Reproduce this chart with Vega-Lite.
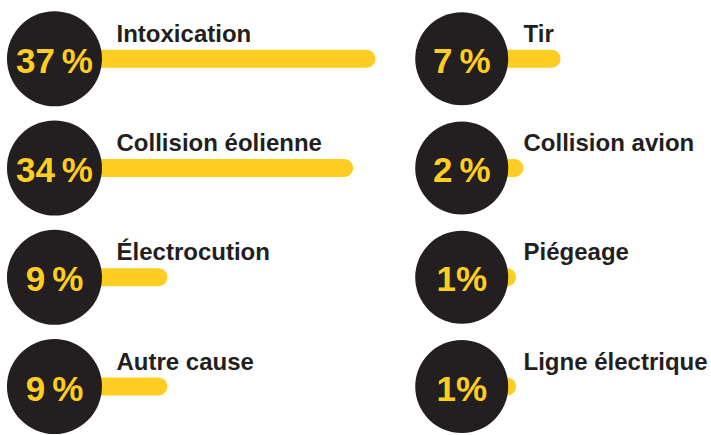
{
  "$schema": "https://vega.github.io/schema/vega-lite/v6.json",
  "padding": 0,
  "background": "white",
  "config": {"view": {"stroke": null}, "concat": {"spacing": 0}},
  "datasets": {
    "causes": [
      {"col": 1, "row": 0, "cause": "Intoxication", "pct": 37, "label": "37\u2009%"},
      {"col": 1, "row": 1, "cause": "Collision éolienne", "pct": 34, "label": "34\u2009%"},
      {"col": 1, "row": 2, "cause": "Électrocution", "pct": 9, "label": "9\u2009%"},
      {"col": 1, "row": 3, "cause": "Autre cause", "pct": 9, "label": "9\u2009%"},
      {"col": 2, "row": 0, "cause": "Tir", "pct": 7, "label": "7\u2009%"},
      {"col": 2, "row": 1, "cause": "Collision avion", "pct": 2, "label": "2\u2009%"},
      {"col": 2, "row": 2, "cause": "Piégeage", "pct": 1, "label": "1%"},
      {"col": 2, "row": 3, "cause": "Ligne électrique", "pct": 1, "label": "1%"}
    ]
  },
  "hconcat": [
    {
      "width": 408,
      "height": 435,
      "data": {"name": "causes"},
      "transform": [{"filter": "datum.col == 1"}],
      "encoding": {
        "y": {"field": "row", "type": "quantitative", "scale": {"domain": [-0.492, 3.398], "reverse": true, "nice": false, "zero": false}, "axis": null}
      },
      "layer": [
        {
          "mark": {"type": "bar", "color": "#fdcd21", "size": 18, "cornerRadiusEnd": 9, "orient": "horizontal"},
          "encoding": {
            "x": {"field": "pct", "type": "quantitative", "scale": {"domain": [-13.53, 41.38], "nice": false, "zero": false}, "axis": null},
            "x2": {"datum": -6.2}
          }
        },
        {
          "mark": {"type": "point", "shape": "circle", "filled": true, "color": "#231f20", "size": 9025, "opacity": 1},
          "encoding": {"x": {"datum": -6.2, "type": "quantitative"}}
        },
        {
          "mark": {"type": "text", "color": "#fdcd21", "font": "Liberation Sans", "fontWeight": "bold", "fontSize": 35, "align": "center", "baseline": "alphabetic", "dy": 14},
          "encoding": {"x": {"datum": -6.2, "type": "quantitative"}, "text": {"field": "label"}}
        },
        {
          "mark": {"type": "text", "color": "#231f20", "font": "Liberation Sans", "fontWeight": "bold", "fontSize": 24, "align": "left", "baseline": "alphabetic", "dx": 16, "dy": -17},
          "encoding": {"x": {"datum": 0, "type": "quantitative"}, "text": {"field": "cause"}}
        }
      ]
    },
    {
      "width": 303,
      "height": 435,
      "data": {"name": "causes"},
      "transform": [{"filter": "datum.col == 2"}],
      "encoding": {
        "y": {"field": "row", "type": "quantitative", "scale": {"domain": [-0.492, 3.398], "reverse": true, "nice": false, "zero": false}, "axis": null}
      },
      "layer": [
        {
          "mark": {"type": "bar", "color": "#fdcd21", "size": 18, "cornerRadiusEnd": 9, "orient": "horizontal"},
          "encoding": {
            "x": {"field": "pct", "type": "quantitative", "scale": {"domain": [-13.53, 27.25], "nice": false, "zero": false}, "axis": null},
            "x2": {"datum": -6.3}
          }
        },
        {
          "mark": {"type": "point", "shape": "circle", "filled": true, "color": "#231f20", "size": 8650, "opacity": 1},
          "encoding": {"x": {"datum": -6.3, "type": "quantitative"}}
        },
        {
          "mark": {"type": "text", "color": "#fdcd21", "font": "Liberation Sans", "fontWeight": "bold", "fontSize": 35, "align": "center", "baseline": "alphabetic", "dy": 14},
          "encoding": {"x": {"datum": -6.3, "type": "quantitative"}, "text": {"field": "label"}}
        },
        {
          "mark": {"type": "text", "color": "#231f20", "font": "Liberation Sans", "fontWeight": "bold", "fontSize": 24, "align": "left", "baseline": "alphabetic", "dx": 15, "dy": -17},
          "encoding": {"x": {"datum": 0, "type": "quantitative"}, "text": {"field": "cause"}}
        }
      ]
    }
  ],
  "resolve": {"scale": {"x": "independent"}}
}
